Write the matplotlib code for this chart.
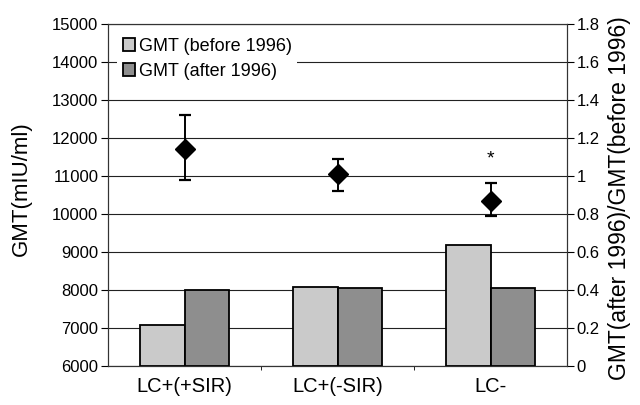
import numpy as np
import matplotlib.pyplot as plt

plt.rcParams['font.family'] = ['Liberation Sans', 'DejaVu Sans']

groups = ["LC+(+SIR)", "LC+(-SIR)", "LC-"]
gmt_before = [7070, 8070, 9180]
gmt_after = [8000, 8050, 8050]
ratio = [1.14, 1.01, 0.87]
ratio_hi = [1.32, 1.09, 0.965]
ratio_lo = [0.98, 0.92, 0.79]


def main():
    fig = plt.figure(figsize=(6.4, 4.05), dpi=100)
    ax = fig.add_axes([0.169, 0.096, 0.717, 0.845])
    x = np.arange(len(groups))
    w = 0.29

    ax.bar(x - w / 2, [v - 6000 for v in gmt_before], w, bottom=6000,
           color="#cacaca", edgecolor="black", linewidth=1.3,
           label="GMT (before 1996)", zorder=3)
    ax.bar(x + w / 2, [v - 6000 for v in gmt_after], w, bottom=6000,
           color="#8e8e8e", edgecolor="black", linewidth=1.3,
           label="GMT (after 1996)", zorder=3)

    ax.set_ylim(6000, 15000)
    ax.set_yticks(range(6000, 15001, 1000))
    ax.set_xlim(-0.5, 2.5)
    ax.set_xticks(x)
    ax.set_xticklabels(groups, fontsize=14.5)
    ax.set_xticks([0.5, 1.5], minor=True)
    ax.tick_params(axis="x", which="major", length=0, pad=8)
    ax.tick_params(axis="x", which="minor", length=3, direction="out")
    ax.tick_params(axis="y", labelsize=12, length=5, width=0.8, pad=2)
    ax.yaxis.grid(True, color="#222222", linewidth=0.8, zorder=0)
    ax.set_axisbelow(True)
    ax.set_ylabel("GMT(mIU/ml)", fontsize=16)
    ax.yaxis.set_label_coords(-0.166, 0.52)
    for s in ax.spines.values():
        s.set_linewidth(0.8)
        s.set_color("#333333")

    leg = ax.legend(loc="upper left", bbox_to_anchor=(0.02, 0.975),
                    fontsize=13, frameon=True, fancybox=False,
                    handlelength=0.7, handleheight=0.7, handletextpad=0.2,
                    labelspacing=0.45, borderpad=0.3, borderaxespad=0)
    leg.get_frame().set_edgecolor("none")
    leg.get_frame().set_facecolor("white")
    leg.get_frame().set_alpha(1)
    leg.set_zorder(5)

    ax2 = ax.twinx()
    yerr = [[r - lo for r, lo in zip(ratio, ratio_lo)],
            [hi - r for r, hi in zip(ratio, ratio_hi)]]
    ax2.errorbar(x, ratio, yerr=yerr, fmt="D", color="black", markersize=10,
                 ecolor="black", elinewidth=1.4, capsize=4, capthick=1.6)
    ax2.text(2, 1.09, "*", ha="center", va="center", fontsize=14)
    ax2.set_ylim(0, 1.8)
    ax2.set_yticks(np.arange(0, 1.81, 0.2))
    ax2.set_yticklabels(["0", "0.2", "0.4", "0.6", "0.8", "1", "1.2", "1.4", "1.6", "1.8"])
    ax2.tick_params(axis="y", labelsize=12, length=5, width=0.8, pad=2)
    ax2.set_ylabel("GMT(after 1996)/GMT(before 1996)", fontsize=16.5,
                   rotation=90)
    ax2.yaxis.set_label_coords(1.089, 0.49)
    for s in ax2.spines.values():
        s.set_linewidth(0.8)
        s.set_color("#333333")

    fig.savefig("out.png", dpi=100)


if __name__ == "__main__":
    main()
